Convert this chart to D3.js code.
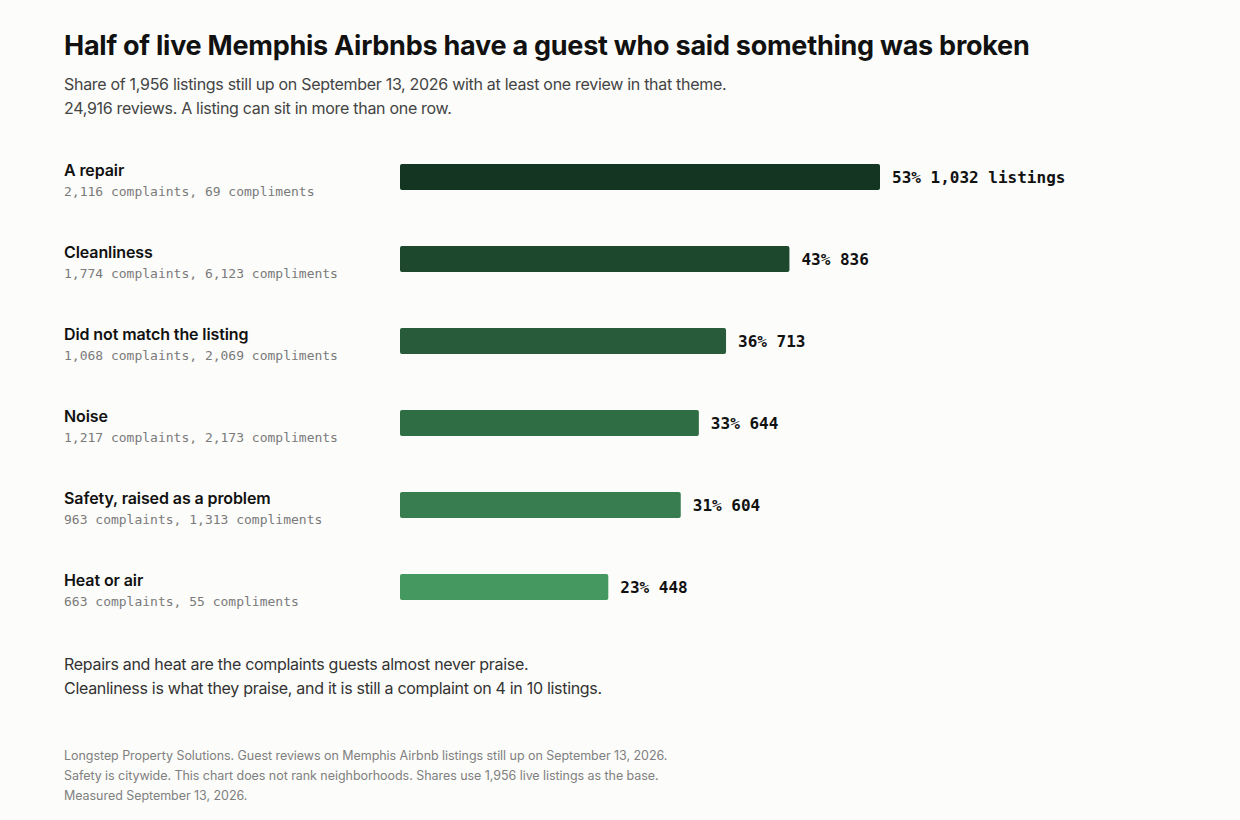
<!DOCTYPE html>
<html>
<head>
<meta charset="utf-8">
<script src="https://cdn.jsdelivr.net/npm/d3@7"></script>
<style>
  body { margin: 0; background: #fcfcfa; }
  svg { display: block; }
  .sans { font-family: Inter, "Noto Sans", sans-serif; }
  .mono { font-family: "DejaVu Sans Mono", monospace; }
</style>
</head>
<body>
<div id="chart"></div>
<script>
// themes, top to bottom
var themes = ["A repair", "Cleanliness", "Did not match the listing", "Noise", "Safety, raised as a problem", "Heat or air"];
var complaints = [2116, 1774, 1068, 1217, 963, 663];
var compliments = [69, 6123, 2069, 2173, 1313, 55];
var sharePct = [53, 43, 36, 33, 31, 23];
var listings = [1032, 836, 713, 644, 604, 448];
var barColors = ["#143522", "#1d482e", "#275b39", "#2f6d44", "#377d4f", "#45985f"];

var title = "Half of live Memphis Airbnbs have a guest who said something was broken";
var subtitle = ["Share of 1,956 listings still up on September 13, 2026 with at least one review in that theme.",
  "24,916 reviews. A listing can sit in more than one row."];
var note = ["Repairs and heat are the complaints guests almost never praise.",
  "Cleanliness is what they praise, and it is still a complaint on 4 in 10 listings."];
var footer = ["Longstep Property Solutions. Guest reviews on Memphis Airbnb listings still up on September 13, 2026.",
  "Safety is citywide. This chart does not rank neighborhoods. Shares use 1,956 live listings as the base.",
  "Measured September 13, 2026."];

var W = 1240, H = 820, left = 64;
var fmt = d3.format(",");

var svg = d3.select("#chart").append("svg").attr("width", W).attr("height", H);
svg.append("rect").attr("width", W).attr("height", H).attr("fill", "#fcfcfa");

svg.append("text").attr("class", "sans")
  .attr("x", left).attr("y", 55)
  .attr("font-size", 27).attr("font-weight", 700).attr("letter-spacing", "-0.25")
  .attr("fill", "#111").text(title);

svg.selectAll(".sub").data(subtitle).enter().append("text")
  .attr("class", "sans sub")
  .attr("x", left).attr("y", function (d, i) { return 90 + i * 24; })
  .attr("font-size", 16).attr("letter-spacing", "-0.3")
  .attr("fill", "#444").text(function (d) { return d; });

// scales
var x = d3.scaleLinear().domain([0, d3.max(sharePct)]).range([0, 480]);
var y = d3.scaleBand().domain(d3.range(themes.length)).range([164, 600]).paddingInner(56 / 82).paddingOuter(0);

var barX = 400;
var rows = svg.selectAll(".row").data(themes).enter().append("g")
  .attr("class", "row")
  .attr("transform", function (d, i) { return "translate(0," + y(i) + ")"; });

rows.append("text").attr("class", "sans")
  .attr("x", left).attr("y", 12)
  .attr("font-size", 16).attr("font-weight", 600).attr("letter-spacing", "-0.1").attr("fill", "#111")
  .text(function (d) { return d; });

rows.append("text").attr("class", "mono")
  .attr("x", left).attr("y", 32)
  .attr("font-size", 13).attr("fill", "#7a7a7a")
  .text(function (d, i) { return fmt(complaints[i]) + " complaints, " + fmt(compliments[i]) + " compliments"; });

rows.append("rect")
  .attr("x", barX).attr("y", 0)
  .attr("width", function (d, i) { return x(sharePct[i]); })
  .attr("height", y.bandwidth())
  .attr("rx", 2)
  .attr("fill", function (d, i) { return barColors[i]; });

rows.append("text").attr("class", "mono")
  .attr("x", function (d, i) { return barX + x(sharePct[i]) + 12; })
  .attr("y", y.bandwidth() / 2).attr("dy", "0.4em")
  .attr("font-size", 16).attr("font-weight", 700).attr("fill", "#111")
  .text(function (d, i) { return sharePct[i] + "% " + fmt(listings[i]) + (i === 0 ? " listings" : ""); });

svg.selectAll(".note").data(note).enter().append("text")
  .attr("class", "sans note")
  .attr("x", left).attr("y", function (d, i) { return 670 + i * 24; })
  .attr("font-size", 16).attr("letter-spacing", "-0.3")
  .attr("fill", "#333").text(function (d) { return d; });

svg.selectAll(".foot").data(footer).enter().append("text")
  .attr("class", "sans foot")
  .attr("x", left).attr("y", function (d, i) { return 760 + i * 20; })
  .attr("font-size", 12.5).attr("letter-spacing", "-0.05")
  .attr("fill", "#808080").text(function (d) { return d; });
</script>
</body>
</html>
